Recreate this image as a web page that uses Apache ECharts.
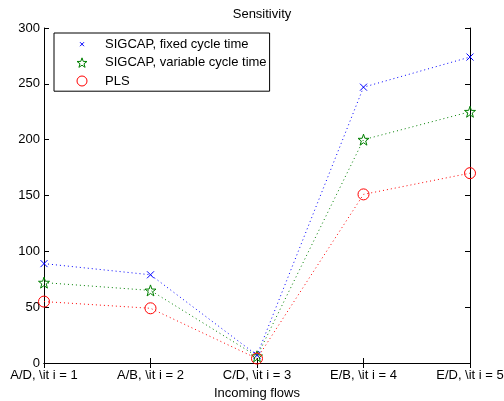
<!DOCTYPE html>
<html>
<head>
<meta charset="utf-8">
<script src="https://cdn.jsdelivr.net/npm/echarts@6/dist/echarts.min.js"></script>
<style>html,body{margin:0;padding:0;background:#fff;}#c{width:504px;height:401px;}</style>
</head>
<body>
<div id="c"></div>
<script>
const categories = ['A/D, \\it i = 1', 'A/B, \\it i = 2', 'C/D, \\it i = 3', 'E/B, \\it i = 4', 'E/D, \\it i = 5'];
const sigcapFixed = [89, 79, 7, 247, 274];
const sigcapVariable = [72, 65, 6, 200, 225];
const pls = [55, 49, 4, 151, 170];
const yTicks = [0, 50, 100, 150, 200, 250, 300];
const seriesNames = ['SIGCAP, fixed cycle time', 'SIGCAP, variable cycle time', 'PLS'];

const FONT = 'Liberation Sans, Arial, Helvetica, sans-serif';
const crossPath = 'path://M0 0L10 10M10 0L0 10';
const crossLegendPath = 'path://M0 0M20 20M6 6L14 14M14 6L6 14';
const starPath = 'path://M10 0L12.35 6.76L19.51 6.91L13.8 11.24L15.88 18.09L10 14L4.12 18.09L6.2 11.24L0.49 6.91L7.65 6.76Z';
const circlePath = 'path://M20 10A10 10 0 1 1 0 10A10 10 0 1 1 20 10Z';
const dots = [1, 3];

const chart = echarts.init(document.getElementById('c'), null, {renderer: 'canvas'});
chart.setOption({
  animation: false,
  backgroundColor: '#fff',
  title: {
    text: 'Sensitivity', left: 257, textAlign: 'center', top: 3,
    textStyle: {fontFamily: FONT, fontSize: 13, fontWeight: 'normal', color: '#000'}
  },
  grid: {left: 44, right: 34, top: 28, bottom: 38, containLabel: false, outerBoundsMode: 'none'},
  legend: {
    orient: 'vertical', left: 54, top: 33,
    backgroundColor: '#fff', borderColor: '#000', borderWidth: 1,
    padding: [2, 3, 1, 22.5], itemGap: 0,
    itemWidth: 10, itemHeight: 10, symbolKeepAspect: true,
    textStyle: {fontFamily: FONT, fontSize: 13, color: '#000', lineHeight: 18.4, padding: [0, 0, 0, 13]},
    data: [
      {name: seriesNames[0], icon: crossLegendPath, itemStyle: {color: 'rgba(0,0,0,0)', borderColor: '#0000ff', borderWidth: 1}},
      {name: seriesNames[1], icon: starPath, itemStyle: {color: 'rgba(0,0,0,0)', borderColor: '#008000', borderWidth: 1}},
      {name: seriesNames[2], icon: circlePath, itemStyle: {color: 'rgba(0,0,0,0)', borderColor: '#ff0000', borderWidth: 1}}
    ]
  },
  xAxis: [{
    type: 'category', data: categories, boundaryGap: false,
    name: 'Incoming flows', nameLocation: 'middle', nameGap: 22,
    nameTextStyle: {fontFamily: FONT, fontSize: 13, color: '#000'},
    axisLine: {lineStyle: {color: '#000', width: 1}},
    axisTick: {inside: true, length: 5, lineStyle: {color: '#000'}},
    axisLabel: {fontFamily: FONT, fontSize: 13, color: '#000', margin: 6, interval: 0},
    splitLine: {show: false}
  }, {
    type: 'category', data: categories, boundaryGap: false, position: 'top',
    axisLine: {lineStyle: {color: '#000', width: 1}},
    axisTick: {inside: true, length: 5, lineStyle: {color: '#000'}},
    axisLabel: {show: false}, splitLine: {show: false}
  }],
  yAxis: [{
    type: 'value', min: 0, max: 300, interval: 50,
    axisLine: {show: true, lineStyle: {color: '#000', width: 1}},
    axisTick: {show: true, inside: true, length: 5, lineStyle: {color: '#000'}},
    axisLabel: {fontFamily: FONT, fontSize: 13, color: '#000', margin: 4,
      formatter: v => yTicks.includes(v) ? String(v) : ''},
    splitLine: {show: false}
  }, {
    type: 'value', min: 0, max: 300, interval: 50, position: 'right',
    axisLine: {show: true, lineStyle: {color: '#000', width: 1}},
    axisTick: {show: true, inside: true, length: 5, lineStyle: {color: '#000'}},
    axisLabel: {show: false}, splitLine: {show: false}
  }],
  series: [{
    name: seriesNames[0], type: 'line', data: sigcapFixed,
    symbol: crossPath, symbolSize: 7,
    itemStyle: {color: 'rgba(0,0,0,0)', borderColor: '#0000ff', borderWidth: 1},
    lineStyle: {color: '#0000ff', width: 1, type: dots}
  }, {
    name: seriesNames[1], type: 'line', data: sigcapVariable,
    symbol: starPath, symbolSize: 11,
    itemStyle: {color: 'rgba(0,0,0,0)', borderColor: '#008000', borderWidth: 1},
    lineStyle: {color: '#008000', width: 1, type: dots}
  }, {
    name: seriesNames[2], type: 'line', data: pls,
    symbol: circlePath, symbolSize: 11,
    itemStyle: {color: 'rgba(0,0,0,0)', borderColor: '#ff0000', borderWidth: 1},
    lineStyle: {color: '#ff0000', width: 1, type: dots}
  }]
});
</script>
</body>
</html>
